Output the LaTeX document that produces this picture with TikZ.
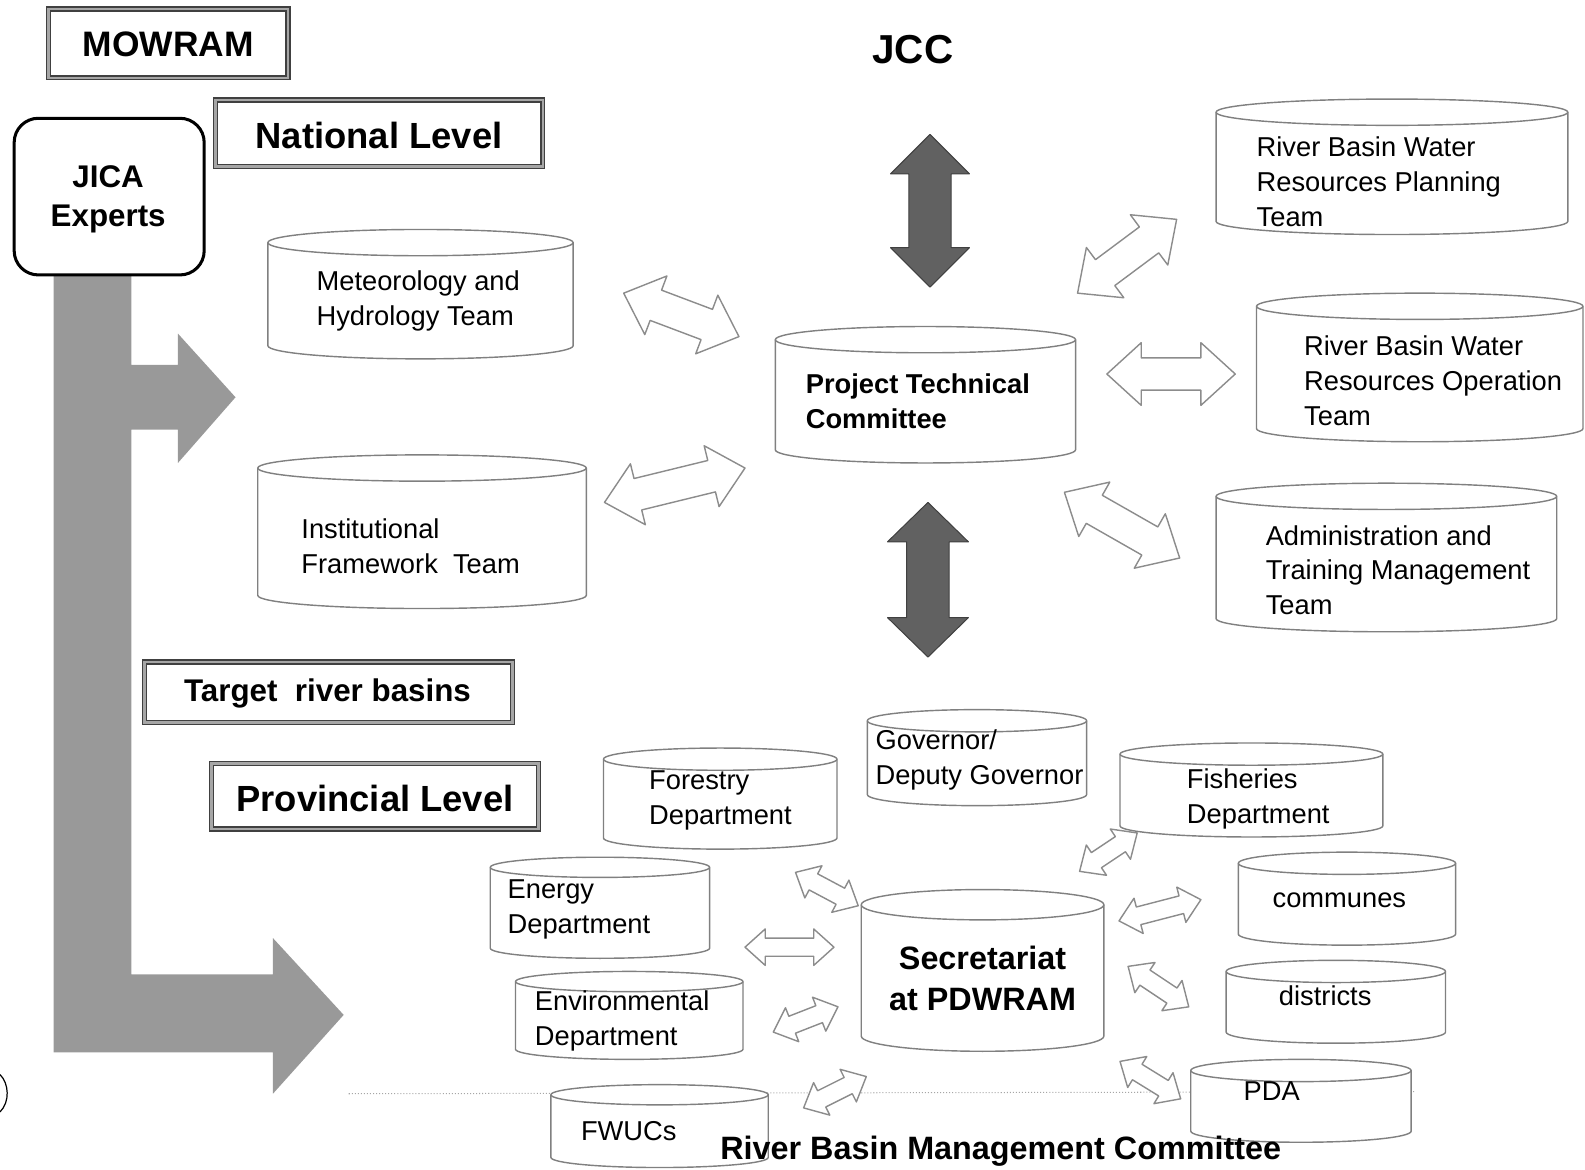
\documentclass[tikz,border=0pt]{standalone}
\usepackage{fontspec}
\setmainfont{Liberation Sans}
\usetikzlibrary{calc}

\tikzset{
 cylline/.style={draw=black!50, line width=1.4pt, fill=white},
 hollow/.style={draw=black!45, line width=1.4pt, fill=white, line join=round},
 darkarr/.style={draw=black!75, line width=1pt, fill=black!62, line join=round},
 framebox/.style={draw=black!75, line width=1.3pt, double=black!35, double distance=2.6pt, inner sep=0pt},
 lbl/.style={inner sep=0pt, align=left, font=\fontsize{27}{34.5}\selectfont},
 blbl/.style={inner sep=0pt, align=left, font=\bfseries\fontsize{27}{34.5}\selectfont},
}

\newcommand\cyl[6]{% name, x1, x2, ytop, ybot, ry
 \pgfmathsetmacro\crx{(#3-#2)/2}
 \path[cylline] (#2,#4+#6) -- (#2,#5-#6) arc[start angle=180,end angle=360,x radius=\crx pt,y radius=#6 pt] -- (#3,#4+#6) arc[start angle=0,end angle=180,x radius=\crx pt,y radius=#6 pt] -- cycle;
 \draw[cylline, fill=none] (#2,#4+#6) arc[start angle=180,end angle=360,x radius=\crx pt,y radius=#6 pt];
 \coordinate (#1) at ({(#2+#3)/2},{(#4+#5)/2});
}

\newcommand\dblarr[6]{% style, A, B, head length, head half width, shaft half width
 \coordinate (tmpP) at ($(#2)!#4!(#3)$);
 \coordinate (tmpQ) at ($(#3)!#4!(#2)$);
 \path[#1] (#2) -- ($(tmpP)!#5!90:(#3)$) -- ($(tmpP)!#6!90:(#3)$) -- ($(tmpQ)!#6!-90:(#2)$) -- ($(tmpQ)!#5!-90:(#2)$) -- (#3) -- ($(tmpQ)!#5!90:(#2)$) -- ($(tmpQ)!#6!90:(#2)$) -- ($(tmpP)!#6!-90:(#3)$) -- ($(tmpP)!#5!-90:(#3)$) -- cycle;
}

\begin{document}
\begin{tikzpicture}[x=1pt,y=-1pt]
\useasboundingbox (0,0) rectangle (1568,1157);

% grey L-shaped arrow
\fill[black!40] (53,272) -- (130,272) -- (130,361) -- (176,361) -- (176,330) -- (233,393) -- (176,458) -- (176,425) -- (130,425) -- (130,964) -- (270,964) -- (270,928) -- (340,1004) -- (270,1082) -- (270,1041) -- (53,1041) -- cycle;

% scan artifact
\draw[line width=1.2pt] (0,1063) .. controls (9,1072) and (10,1090) .. (0,1100);

% faint dotted line
\draw[black!35, dotted, line width=1pt] (345,1082) -- (1400,1080);

% boxes
\node[framebox, minimum width=237pt, minimum height=68pt] (mowram) at (166.5,43) {};
\node[inner sep=0pt, font=\bfseries\fontsize{35}{40}\selectfont] (mowramtext) at (166.5,44) {MOWRAM};
\node[framebox, minimum width=324pt, minimum height=66pt] (national) at (375,132) {};
\node[inner sep=0pt, font=\bfseries\fontsize{36}{40}\selectfont] (nationaltext) at (375,134) {National Level};
\node[framebox, minimum width=364pt, minimum height=60pt] (target) at (325,685) {};
\node[inner sep=0pt, font=\bfseries\fontsize{31}{36}\selectfont] (targettext) at (324,686) {Target\ \ river basins};
\node[framebox, minimum width=324pt, minimum height=65pt] (provincial) at (371,787.5) {};
\node[inner sep=0pt, font=\bfseries\fontsize{36}{40}\selectfont] (provincialtext) at (371,790) {Provincial Level};
\node[draw=black, line width=3pt, rounded corners=24pt, minimum width=188pt, minimum height=155pt] (jica) at (108,194.5) {};
\node[inner sep=0pt, align=center, font=\bfseries\fontsize{31}{39}\selectfont] (jicatext) at (107,197) {JICA\\Experts};
\node[inner sep=0pt, font=\bfseries\fontsize{40}{44}\selectfont] (jcc) at (903,49) {JCC};

% cylinders
\cyl{cmet}{265}{567}{227}{355}{13}
\cyl{cinst}{255}{580}{450}{602}{13}
\cyl{cptc}{767}{1064}{323}{458}{13}
\cyl{cplan}{1203}{1551}{98}{232}{13}
\cyl{coper}{1243}{1566}{290}{437}{13}
\cyl{cadmin}{1203}{1540}{478}{625}{13}
\cyl{cgov}{858}{1075}{702}{797}{11}
\cyl{cfor}{597}{828}{740}{840}{11}
\cyl{cene}{485}{702}{848}{948}{10}
\cyl{cenv}{510}{735}{961}{1048}{10}
\cyl{cfwuc}{545}{760}{1073}{1155}{10}
\cyl{csec}{852}{1092}{880}{1040}{15}
\cyl{cfish}{1108}{1368}{735}{828}{11}
\cyl{ccomm}{1225}{1440}{843}{935}{11}
\cyl{cdist}{1213}{1430}{950}{1032}{11}
\cyl{cpda}{1178}{1396}{1048}{1130}{11}

% texts in cylinders
\node[lbl, anchor=west] (met) at (313,298) {Meteorology and\\Hydrology Team};
\node[lbl, anchor=west] (inst) at (298,540) {Institutional\\Framework\ \ Team};
\node[blbl, anchor=west] (ptc) at (797,397) {Project Technical\\Committee};
\node[lbl, anchor=west] (plan) at (1243,180) {River Basin Water\\Resources Planning\\Team};
\node[lbl, anchor=west] (oper) at (1290,377) {River Basin Water\\Resources Operation\\Team};
\node[lbl, anchor=west] (admin) at (1252,564) {Administration and\\Training Management\\Team};
\node[lbl, anchor=west] (gov) at (866,752) {Governor/\\Deputy Governor};
\node[lbl, anchor=west] (for) at (642,792) {Forestry\\Department};
\node[lbl, anchor=west] (ene) at (502,900) {Energy\\Department};
\node[lbl, anchor=west] (env) at (529,1010) {Environmental\\Department};
\node[lbl] (fwuc) at (622,1119) {FWUCs};
\node[inner sep=0pt, align=center, font=\bfseries\fontsize{32}{41}\selectfont] (sec) at (972,968) {Secretariat\\at PDWRAM};
\node[lbl, anchor=west] (fish) at (1174,790) {Fisheries\\Department};
\node[lbl] (comm) at (1325,891) {communes};
\node[lbl] (dist) at (1311,985) {districts};
\node[lbl] (pda) at (1258,1079) {PDA};

\node[inner sep=0pt, font=\bfseries\fontsize{32}{36}\selectfont] (rbmc) at (990,1139) {River Basin Management Committee};

% arrow end points
\coordinate (h1a) at (617,290); \coordinate (h1b) at (731,333);
\coordinate (h2a) at (598,497); \coordinate (h2b) at (737,463);
\coordinate (h3a) at (1066,290); \coordinate (h3b) at (1164,217);
\coordinate (h4a) at (1095,370); \coordinate (h4b) at (1222,370);
\coordinate (h5a) at (1053,487); \coordinate (h5b) at (1167,552);
\coordinate (l1a) at (787,863); \coordinate (l1b) at (849,896);
\coordinate (l2a) at (737,937); \coordinate (l2b) at (825,937);
\coordinate (l3a) at (765,1021); \coordinate (l3b) at (829,996);
\coordinate (l4a) at (795,1096); \coordinate (l4b) at (857,1065);
\coordinate (l5a) at (1068,862); \coordinate (l5b) at (1125,824);
\coordinate (l6a) at (1107,911); \coordinate (l6b) at (1188,890);
\coordinate (l7a) at (1116,956); \coordinate (l7b) at (1176,996);
\coordinate (l8a) at (1108,1050); \coordinate (l8b) at (1168,1087);
\coordinate (d1a) at (920,133); \coordinate (d1b) at (920,284);
\coordinate (d2a) at (918,497); \coordinate (d2b) at (918,650);

% big hollow arrows
\dblarr{hollow}{h1a}{h1b}{34pt}{31pt}{16pt}
\dblarr{hollow}{h2a}{h2b}{34pt}{31pt}{16pt}
\dblarr{hollow}{h3a}{h3b}{34pt}{31pt}{16pt}
\dblarr{hollow}{h4a}{h4b}{34pt}{31pt}{16pt}
\dblarr{hollow}{h5a}{h5b}{34pt}{31pt}{16pt}
% small hollow arrows
\dblarr{hollow}{l1a}{l1b}{20pt}{18pt}{9pt}
\dblarr{hollow}{l2a}{l2b}{20pt}{18pt}{9pt}
\dblarr{hollow}{l3a}{l3b}{20pt}{18pt}{9pt}
\dblarr{hollow}{l4a}{l4b}{20pt}{18pt}{9pt}
\dblarr{hollow}{l5a}{l5b}{20pt}{18pt}{9pt}
\dblarr{hollow}{l6a}{l6b}{20pt}{18pt}{9pt}
\dblarr{hollow}{l7a}{l7b}{20pt}{18pt}{9pt}
\dblarr{hollow}{l8a}{l8b}{20pt}{18pt}{9pt}
% dark vertical arrows
\dblarr{darkarr}{d1a}{d1b}{39pt}{39pt}{21pt}
\dblarr{darkarr}{d2a}{d2b}{39pt}{40pt}{21pt}
\end{tikzpicture}
\end{document}
